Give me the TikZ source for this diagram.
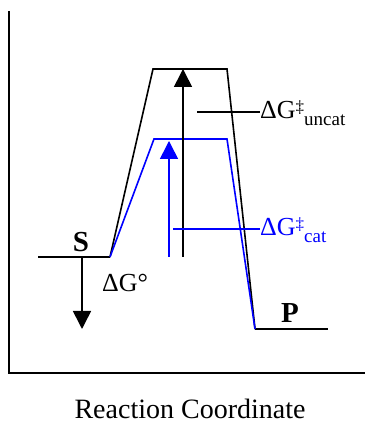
\documentclass[tikz,border=0pt]{standalone}
\usepackage{fontspec}
\setmainfont{Liberation Serif}
\usetikzlibrary{arrows.meta}
\definecolor{cblue}{RGB}{0,0,255}
\tikzset{
  lvl/.style={line width=1.6pt, black},
  bline/.style={line width=1.6pt, black, line join=miter},
  cline/.style={line width=1.6pt, cblue, line join=miter},
  upar/.style={-{Triangle[width=18pt,length=18pt]}},
  lbl/.style={inner sep=0pt, font=\fontsize{26}{30}\selectfont},
  big/.style={inner sep=0pt, font=\fontsize{29}{32}\selectfont\bfseries},
}
\newcommand{\dgsup}[1]{ΔG\raisebox{6pt}{\fontsize{17}{18}\selectfont ‡}\raisebox{-7pt}{\fontsize{19}{20}\selectfont #1}}
\begin{document}
\begin{tikzpicture}[x=1pt,y=1pt]
\useasboundingbox (0,0) rectangle (365,425);
% axes
\coordinate (otop) at (9,414);
\coordinate (o) at (9,52);
\coordinate (oright) at (365,52);
\draw[line width=2pt] (otop) -- (o) -- (oright);
% key points
\coordinate (s0) at (38,168);
\coordinate (s1) at (110,168);
\coordinate (b1) at (153,356);
\coordinate (b2) at (227,356);
\coordinate (c1) at (154,286);
\coordinate (c2) at (227,286);
\coordinate (p0) at (255,96);
\coordinate (p1) at (328,96);
% levels
\draw[lvl] (s0) -- (s1);
\draw[lvl] (p0) -- (p1);
% profiles
\draw[bline] (s1) -- (b1) -- (b2) -- (p0);
\draw[cline] (s1) -- (c1) -- (c2) -- (p0);
% arrows
\coordinate (ka0) at (183,168);
\coordinate (ka1) at (183,356);
\draw[line width=1.6pt, upar] (ka0) -- (ka1);
\coordinate (ca0) at (169,168);
\coordinate (ca1) at (169,284);
\draw[line width=1.6pt, cblue, upar] (ca0) -- (ca1);
\coordinate (da0) at (82,168);
\coordinate (da1) at (82,96);
\draw[line width=1.6pt, upar] (da0) -- (da1);
% label leaders
\node[lbl, anchor=west] (unc) at (260,312) {\dgsup{uncat}};
\coordinate (ul) at (197,313);
\draw[line width=1.6pt] (ul) -- (ul -| unc.west);
\node[lbl, anchor=west, text=cblue] (cat) at (260,195) {\dgsup{cat}};
\coordinate (cl) at (173,196);
\draw[line width=1.6pt, cblue] (cl) -- (cl -| cat.west);
% labels
\node[big] (S) at (81,183) {S};
\node[big] (P) at (290,112) {P};
\node[lbl, anchor=west] (dg) at (102,142) {ΔG°};
\node[inner sep=0pt, font=\fontsize{28}{32}\selectfont] (rc) at (190,16) {Reaction Coordinate};
\end{tikzpicture}
\end{document}
